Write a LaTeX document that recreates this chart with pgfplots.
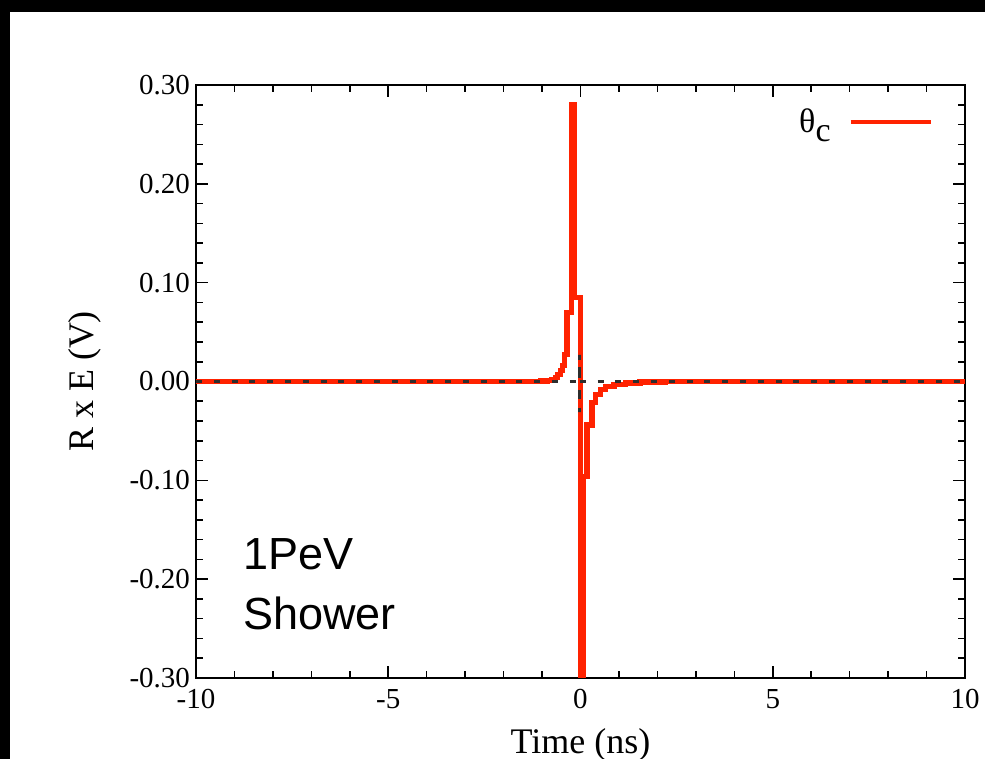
\documentclass[border=0pt]{standalone}
\usepackage{pgfplots}
\pgfplotsset{compat=1.18}
\usepackage{fontspec}
\setmainfont{Liberation Serif}
\newfontfamily\arial{Liberation Sans}
\definecolor{wred}{RGB}{255,34,0}
\definecolor{dgray}{RGB}{45,45,45}
\begin{document}
\begin{tikzpicture}
\begin{axis}[
  at={(0,0)}, anchor=south west,
  scale only axis, width=384.5pt, height=296.5pt,
  xmin=-10, xmax=10, ymin=-0.3, ymax=0.3,
  xtick={-10,-5,0,5,10}, xticklabels={-10,-5,0,5,10},
  ytick={-0.3,-0.2,-0.1,0,0.1,0.2,0.3},
  yticklabels={-0.30,-0.20,-0.10,0.00,0.10,0.20,0.30},
  minor x tick num=4, minor y tick num=4,
  tick align=inside, major tick length=6pt, minor tick length=3.5pt,
  every tick/.style={black, line width=0.8pt},
  axis line style={line width=1pt},
  tick label style={font=\fontsize{14.5}{16}\selectfont},
  xticklabel style={yshift=-2pt},
  yticklabel style={xshift=0.5pt},
  label style={font=\fontsize{18}{21}\selectfont},
  xlabel={Time (ns)}, ylabel={R x E (V)},
  xlabel style={at={(axis description cs:0.5,-0.1265)}, anchor=base},
  ylabel style={at={(axis description cs:-0.1443,0.5)}, anchor=center},
  legend style={draw=none, fill=none, at={(rel axis cs:0.9584,0.9376)}, anchor=east,
    font=\fontsize{17}{20}\selectfont, inner sep=0pt, column sep=7pt},
  legend plot pos=right,
  legend image code/.code={\draw[#1, line width=2pt] (0pt,0pt) -- (40pt,0pt);},
  clip=true,
]
\addplot[wred, line width=2.6pt, const plot mark left, line join=miter] coordinates {
(-10,0) (-1.05,0.0005) (-0.85,0.001) (-0.74,0.002) (-0.66,0.004) (-0.59,0.007)
(-0.51,0.011) (-0.46,0.016) (-0.42,0.027) (-0.35,0.070) (-0.234,0.280)
(-0.156,0.085) (-0.01,-0.40) (0.065,-0.096) (0.17,-0.044) (0.30,-0.021)
(0.40,-0.013) (0.51,-0.008) (0.66,-0.005) (0.87,-0.003) (1.16,-0.0015)
(1.55,-0.0005) (2.2,0) (10,0)
};
\addlegendentry{θ\raisebox{-4.5pt}{c}}
\addplot[dgray, line width=1.2pt, dash pattern=on 3pt off 5.9pt, forget plot] coordinates {
(-10,0) (-0.03,0) (-0.03,0.027) (-0.03,-0.031) (-0.03,0) (10,0)
};
\node[anchor=base west, font=\arial\fontsize{22.5}{27}\selectfont, inner sep=0pt] at (axis cs:-8.78,-0.190) {1PeV};
\node[anchor=base west, font=\arial\fontsize{22.5}{27}\selectfont, inner sep=0pt] at (axis cs:-8.78,-0.251) {Shower};
\end{axis}
\pgfresetboundingbox
\useasboundingbox (-98pt,-40.5pt) rectangle (394.5pt,339pt);
\fill[black] (-98pt,333pt) rectangle (394.5pt,339pt);
\fill[black] (-98pt,-40.5pt) rectangle (-93pt,339pt);
\end{tikzpicture}
\end{document}
